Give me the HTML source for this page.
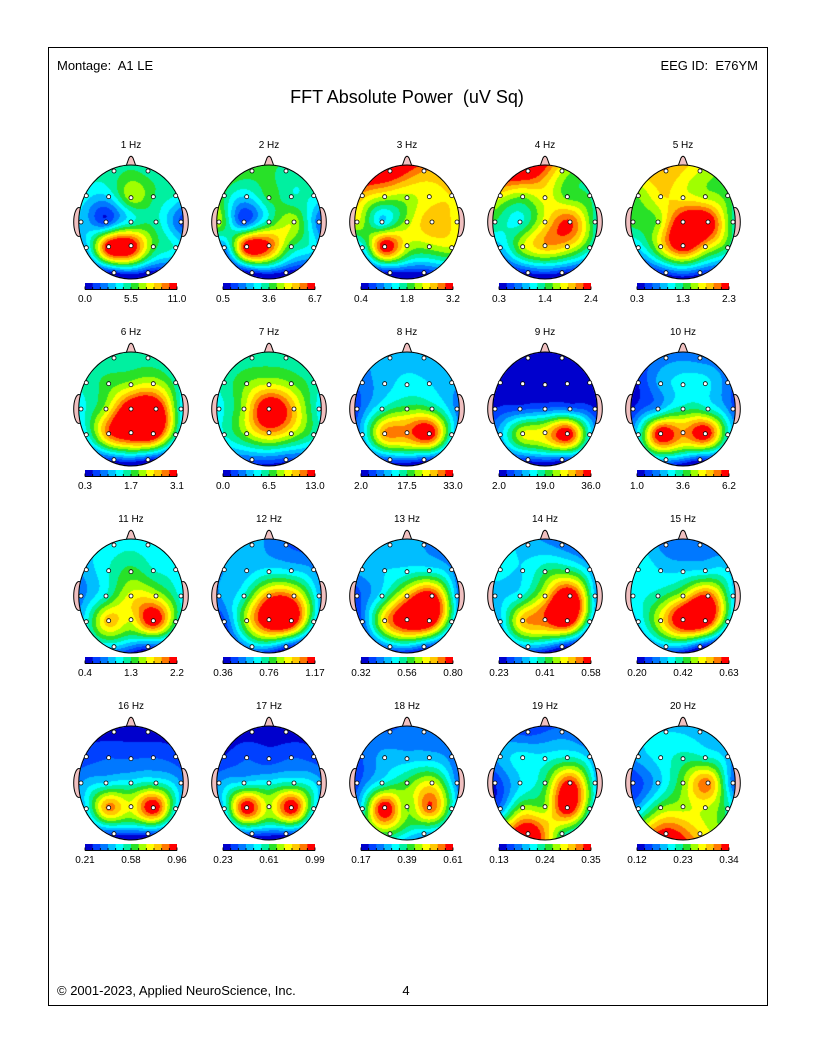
<!DOCTYPE html>
<html><head><meta charset="utf-8">
<style>
html,body{margin:0;padding:0;background:#fff}
#w{position:relative;width:816px;height:1056px;overflow:hidden;background:#fff}
#w>svg,#w>canvas{position:absolute;left:0;top:0}
text{font-family:"Liberation Sans",Arial,sans-serif;fill:#000}
.t{font-size:10px;text-anchor:middle}
.h{font-size:13px;white-space:pre}
</style></head>
<body><div id="w">
<svg width="816" height="1056" xmlns="http://www.w3.org/2000/svg">
<defs>
<g id="ea">
<ellipse cx="-52" cy="0" rx="5.3" ry="14.5" fill="#f0c0c0" stroke="#000" stroke-width="1"/>
<ellipse cx="52" cy="0" rx="5.3" ry="14.5" fill="#f0c0c0" stroke="#000" stroke-width="1"/>
<path d="M-6,-53 L-2,-64 Q0,-67.5 2,-64 L6,-53 Z" fill="#f0c0c0" stroke="#000" stroke-width="1"/>
</g>
</defs>
<use href="#ea" x="131" y="222"/><use href="#ea" x="269" y="222"/><use href="#ea" x="407" y="222"/><use href="#ea" x="545" y="222"/><use href="#ea" x="683" y="222"/>
<use href="#ea" x="131" y="409"/><use href="#ea" x="269" y="409"/><use href="#ea" x="407" y="409"/><use href="#ea" x="545" y="409"/><use href="#ea" x="683" y="409"/>
<use href="#ea" x="131" y="596"/><use href="#ea" x="269" y="596"/><use href="#ea" x="407" y="596"/><use href="#ea" x="545" y="596"/><use href="#ea" x="683" y="596"/>
<use href="#ea" x="131" y="783"/><use href="#ea" x="269" y="783"/><use href="#ea" x="407" y="783"/><use href="#ea" x="545" y="783"/><use href="#ea" x="683" y="783"/>
</svg>
<canvas id="c" width="816" height="1056"></canvas>
<svg width="816" height="1056" xmlns="http://www.w3.org/2000/svg">
<defs>
<g id="f">
<ellipse rx="52.3" ry="57" fill="none" stroke="#000" stroke-width="1"/>
<g fill="#fff" stroke="#000" stroke-width="0.8">
<circle cx="-17" cy="-51" r="2"/><circle cx="17" cy="-51" r="2"/>
<circle cx="-44.7" cy="-26.3" r="2"/><circle cx="-22.3" cy="-25.3" r="2"/><circle cx="0" cy="-24.3" r="2"/><circle cx="22.3" cy="-25.3" r="2"/><circle cx="44.7" cy="-26.3" r="2"/>
<circle cx="-50" cy="0" r="2"/><circle cx="-25" cy="0" r="2"/><circle cx="0" cy="0" r="2"/><circle cx="25" cy="0" r="2"/><circle cx="50" cy="0" r="2"/>
<circle cx="-44.7" cy="25.7" r="2"/><circle cx="-22.3" cy="24.7" r="2"/><circle cx="0" cy="23.7" r="2"/><circle cx="22.3" cy="24.7" r="2"/><circle cx="44.7" cy="25.7" r="2"/>
<circle cx="-17" cy="50.7" r="2"/><circle cx="17" cy="50.7" r="2"/>
</g>
<rect x="-46" y="61" width="8" height="6" fill="#0000cd"/>
<rect x="-38.33" y="61" width="8" height="6" fill="#0040ff"/>
<rect x="-30.67" y="61" width="8" height="6" fill="#0078ff"/>
<rect x="-23" y="61" width="8" height="6" fill="#00beff"/>
<rect x="-15.33" y="61" width="8" height="6" fill="#00ffff"/>
<rect x="-7.67" y="61" width="8" height="6" fill="#00f0a0"/>
<rect x="0" y="61" width="8" height="6" fill="#28e128"/>
<rect x="7.67" y="61" width="8" height="6" fill="#a0ff00"/>
<rect x="15.33" y="61" width="8" height="6" fill="#ffff00"/>
<rect x="23" y="61" width="8" height="6" fill="#ffc800"/>
<rect x="30.67" y="61" width="8" height="6" fill="#ff7800"/>
<rect x="38.33" y="61" width="7.67" height="6" fill="#ff0000"/>
<path d="M-46,67.5 H46 M-46,64.5 V67.5 M-38.33,65 V67.5 M-30.67,65 V67.5 M-23,65 V67.5 M-15.33,65 V67.5 M-7.67,65 V67.5 M0,65 V67.5 M7.67,65 V67.5 M15.33,65 V67.5 M23,65 V67.5 M30.67,65 V67.5 M38.33,65 V67.5 M46,64.5 V67.5" stroke="#000" stroke-width="0.9" fill="none"/>
</g>
</defs>
<rect x="48.5" y="47.5" width="719" height="958" fill="none" stroke="#000" stroke-width="1"/>
<text class="h" x="57" y="70">Montage:  A1 LE</text>
<text class="h" x="758" y="70" text-anchor="end">EEG ID:  E76YM</text>
<text x="407" y="103" text-anchor="middle" style="font-size:18px;white-space:pre">FFT Absolute Power  (uV Sq)</text>
<text class="h" x="57" y="995">© 2001-2023, Applied NeuroScience, Inc.</text>
<text class="h" x="406" y="995" text-anchor="middle">4</text>

<use href="#f" x="131" y="222"/><use href="#f" x="269" y="222"/><use href="#f" x="407" y="222"/><use href="#f" x="545" y="222"/><use href="#f" x="683" y="222"/>
<use href="#f" x="131" y="409"/><use href="#f" x="269" y="409"/><use href="#f" x="407" y="409"/><use href="#f" x="545" y="409"/><use href="#f" x="683" y="409"/>
<use href="#f" x="131" y="596"/><use href="#f" x="269" y="596"/><use href="#f" x="407" y="596"/><use href="#f" x="545" y="596"/><use href="#f" x="683" y="596"/>
<use href="#f" x="131" y="783"/><use href="#f" x="269" y="783"/><use href="#f" x="407" y="783"/><use href="#f" x="545" y="783"/><use href="#f" x="683" y="783"/>

<text class="t" x="131" y="148">1 Hz</text><text class="t" x="269" y="148">2 Hz</text><text class="t" x="407" y="148">3 Hz</text><text class="t" x="545" y="148">4 Hz</text><text class="t" x="683" y="148">5 Hz</text>
<text class="t" x="131" y="335">6 Hz</text><text class="t" x="269" y="335">7 Hz</text><text class="t" x="407" y="335">8 Hz</text><text class="t" x="545" y="335">9 Hz</text><text class="t" x="683" y="335">10 Hz</text>
<text class="t" x="131" y="522">11 Hz</text><text class="t" x="269" y="522">12 Hz</text><text class="t" x="407" y="522">13 Hz</text><text class="t" x="545" y="522">14 Hz</text><text class="t" x="683" y="522">15 Hz</text>
<text class="t" x="131" y="709">16 Hz</text><text class="t" x="269" y="709">17 Hz</text><text class="t" x="407" y="709">18 Hz</text><text class="t" x="545" y="709">19 Hz</text><text class="t" x="683" y="709">20 Hz</text>

<text class="t" x="85" y="302">0.0</text><text class="t" x="131" y="302">5.5</text><text class="t" x="177" y="302">11.0</text>
<text class="t" x="223" y="302">0.5</text><text class="t" x="269" y="302">3.6</text><text class="t" x="315" y="302">6.7</text>
<text class="t" x="361" y="302">0.4</text><text class="t" x="407" y="302">1.8</text><text class="t" x="453" y="302">3.2</text>
<text class="t" x="499" y="302">0.3</text><text class="t" x="545" y="302">1.4</text><text class="t" x="591" y="302">2.4</text>
<text class="t" x="637" y="302">0.3</text><text class="t" x="683" y="302">1.3</text><text class="t" x="729" y="302">2.3</text>

<text class="t" x="85" y="489">0.3</text><text class="t" x="131" y="489">1.7</text><text class="t" x="177" y="489">3.1</text>
<text class="t" x="223" y="489">0.0</text><text class="t" x="269" y="489">6.5</text><text class="t" x="315" y="489">13.0</text>
<text class="t" x="361" y="489">2.0</text><text class="t" x="407" y="489">17.5</text><text class="t" x="453" y="489">33.0</text>
<text class="t" x="499" y="489">2.0</text><text class="t" x="545" y="489">19.0</text><text class="t" x="591" y="489">36.0</text>
<text class="t" x="637" y="489">1.0</text><text class="t" x="683" y="489">3.6</text><text class="t" x="729" y="489">6.2</text>

<text class="t" x="85" y="676">0.4</text><text class="t" x="131" y="676">1.3</text><text class="t" x="177" y="676">2.2</text>
<text class="t" x="223" y="676">0.36</text><text class="t" x="269" y="676">0.76</text><text class="t" x="315" y="676">1.17</text>
<text class="t" x="361" y="676">0.32</text><text class="t" x="407" y="676">0.56</text><text class="t" x="453" y="676">0.80</text>
<text class="t" x="499" y="676">0.23</text><text class="t" x="545" y="676">0.41</text><text class="t" x="591" y="676">0.58</text>
<text class="t" x="637" y="676">0.20</text><text class="t" x="683" y="676">0.42</text><text class="t" x="729" y="676">0.63</text>

<text class="t" x="85" y="863">0.21</text><text class="t" x="131" y="863">0.58</text><text class="t" x="177" y="863">0.96</text>
<text class="t" x="223" y="863">0.23</text><text class="t" x="269" y="863">0.61</text><text class="t" x="315" y="863">0.99</text>
<text class="t" x="361" y="863">0.17</text><text class="t" x="407" y="863">0.39</text><text class="t" x="453" y="863">0.61</text>
<text class="t" x="499" y="863">0.13</text><text class="t" x="545" y="863">0.24</text><text class="t" x="591" y="863">0.35</text>
<text class="t" x="637" y="863">0.12</text><text class="t" x="683" y="863">0.23</text><text class="t" x="729" y="863">0.34</text>
</svg>
</div>
<script>
(function(){
var E=[[-17,-51],[17,-51],[-44.7,-26.3],[-22.3,-25.3],[0,-24.3],[22.3,-25.3],[44.7,-26.3],[-50,0],[-25,0],[0,0],[25,0],[50,0],[-44.7,25.7],[-22.3,24.7],[0,23.7],[22.3,24.7],[44.7,25.7],[-17,50.7],[17,50.7]];
var PAL=[[0,0,205],[0,64,255],[0,120,255],[0,190,255],[0,255,255],[0,240,160],[40,225,40],[160,255,0],[255,255,0],[255,200,0],[255,120,0],[255,0,0]];
var CX=[131,269,407,545,683],CY=[222,409,596,783];
var D=[
[5,5,4,3.5,7.5,5.5,4.5,3.5,0.5,4,5,1,3,12.5,12.5,6,4.5,0.3,0],
[6,5,5.5,3.5,6,4.5,4.5,7.5,0.5,5,7.5,1.5,2,12.5,11,5.5,4,0,0],
[12.5,9.5,9,7.5,7,8,8.5,8,3,7,9.5,8,3.5,12.5,7.5,7,7.5,0,0.3],
[12.5,7.5,8,6.5,8,6,5.5,5.5,4,8,11,5,3,7.5,9.5,8.5,5,0.5,0.5],
[9.5,7.5,6.5,8.5,8,7,6,6,6.5,12.5,12.5,5,3.5,8,12.5,8.5,5.5,1,1],
[5,5,5,6,7,7.5,5,4,7,13,13,4,4,10.5,13,13,5,1,0.5],
[5,5,5,6.5,7.5,6.5,5,4,7,13,9,4,4.5,7,9.5,7.5,5,1.5,1],
[3,3,2,3,4,3.5,3,1,4.5,6,5.5,2,3,10,10,12.5,4,1.5,1],
[0,0,0,0,0,0,0,0.5,1,1.5,1.5,0.5,3,8,8.5,12.5,4,1,1],
[2,2,0.5,3,4,4,2,0.5,2.5,5,4.5,1.5,4,12.5,9.5,12.5,4.5,3,0.5],
[4,4,3,4.5,6,4.5,4,2,4.5,8,7.5,4,4,9.5,7.5,12.5,5.5,3.5,1],
[3,1.5,2.5,3,4,3.5,2.5,2.5,4.5,10,9.5,3,1,7.5,13,13,4,3,1],
[3,2.5,3,3.5,4,4,2.5,1,4,9,12,2.5,1.5,9,13,13,4.5,2.5,1.5],
[3,2,4,3.5,5.5,5.5,3,3,4,8,13,3,3,9.5,10.5,13,4,3,0.5],
[2,2,4.5,3.5,3.5,3.5,3.5,4,5,7.5,11,3.5,3.5,8,13,13,4.5,3,0.5],
[0,0,1,1.5,1.5,1.5,1,2.5,3.5,4,4.5,2.5,3.5,10.5,7.5,12.5,4,1,1],
[0,0,0.5,1.5,1,1.5,1,2.5,3.5,4,4.5,3,3.5,12.5,7,12.5,4,1.5,1],
[1.5,2,1.5,3,3,3,2,1,4,6,8,2,4,12.5,6,11,4.5,6,3],
[1,2,3,4,4,4.5,3,0.5,3.5,5.5,11.5,3.5,2,7,6.5,12.5,5,13,5.5],
[3.5,3,3,4,5,4.5,3,0.5,3,6.5,10.5,1.5,3,6.5,7,7.5,5,11.5,8.5]
];
var n=19,N=22,s=1/50,LAM=0.003;
function U(r2){return r2>0?0.5*r2*Math.log(r2):0;}
function solve(v){
 var M=[],i,j,r,c,k;
 for(i=0;i<N;i++){var row=[];for(j=0;j<=N;j++)row.push(0);M.push(row);}
 for(i=0;i<n;i++){
  for(j=0;j<n;j++){var dx=(E[i][0]-E[j][0])*s,dy=(E[i][1]-E[j][1])*s;M[i][j]=U(dx*dx+dy*dy);}
  M[i][i]+=LAM;
  M[i][n]=1;M[i][n+1]=E[i][0]*s;M[i][n+2]=E[i][1]*s;
  M[n][i]=1;M[n+1][i]=E[i][0]*s;M[n+2][i]=E[i][1]*s;
  M[i][N]=v[i];
 }
 for(c=0;c<N;c++){
  var p=c;for(r=c+1;r<N;r++)if(Math.abs(M[r][c])>Math.abs(M[p][c]))p=r;
  var t=M[c];M[c]=M[p];M[p]=t;
  for(r=0;r<N;r++){if(r!==c){var f=M[r][c]/M[c][c];if(f){for(k=c;k<=N;k++)M[r][k]-=f*M[c][k];}}}
 }
 var w=[];for(i=0;i<N;i++)w.push(M[i][N]/M[i][i]);return w;
}
var cv=document.getElementById('c'),ctx=cv.getContext('2d');
var img=ctx.createImageData(816,1056),dat=img.data;
var RX=52.3,RY=57,pad=12,SIG=3,KR=9,K=[],ks=0,q;
for(q=-KR;q<=KR;q++){var g=Math.exp(-q*q/(2*SIG*SIG));K.push(g);ks+=g;}
for(q=0;q<K.length;q++)K[q]/=ks;
for(var m=0;m<20;m++){
 var cx=CX[m%5],cy=CY[Math.floor(m/5)],w=solve(D[m]);
 var bx0=Math.floor(cx-RX)-pad,by0=Math.floor(cy-RY)-pad;
 var W=Math.ceil(2*RX)+2*pad+2,H=Math.ceil(2*RY)+2*pad+2;
 var F=new Float32Array(W*H),T=new Float32Array(W*H),G=new Float32Array(W*H);
 var xx,yy,i,k;
 for(yy=0;yy<H;yy++){for(xx=0;xx<W;xx++){
  var x=bx0+xx+0.5-cx,y=by0+yy+0.5-cy;
  var f=w[n]+w[n+1]*x*s+w[n+2]*y*s;
  for(i=0;i<n;i++){var dx=(x-E[i][0])*s,dy=(y-E[i][1])*s;f+=w[i]*U(dx*dx+dy*dy);}
  F[yy*W+xx]=f;
 }}
 for(yy=0;yy<H;yy++){for(xx=0;xx<W;xx++){
  var a=0;for(k=-KR;k<=KR;k++){var x2=xx+k;if(x2<0)x2=0;if(x2>=W)x2=W-1;a+=K[k+KR]*F[yy*W+x2];}
  T[yy*W+xx]=a;
 }}
 for(yy=0;yy<H;yy++){for(xx=0;xx<W;xx++){
  var a2=0;for(k=-KR;k<=KR;k++){var y2=yy+k;if(y2<0)y2=0;if(y2>=H)y2=H-1;a2+=K[k+KR]*T[y2*W+xx];}
  G[yy*W+xx]=a2;
 }}
 for(yy=0;yy<H;yy++){for(xx=0;xx<W;xx++){
  var px=bx0+xx,py=by0+yy;
  var ex=(px+0.5-cx)/RX,ey=(py+0.5-cy)/RY;
  if(ex*ex+ey*ey>1)continue;
  var b=Math.floor(G[yy*W+xx]+0.5);if(b<0)b=0;if(b>11)b=11;
  var col=PAL[b],o=(py*816+px)*4;
  dat[o]=col[0];dat[o+1]=col[1];dat[o+2]=col[2];dat[o+3]=255;
 }}
}
ctx.putImageData(img,0,0);
})();
</script>
</body></html>
